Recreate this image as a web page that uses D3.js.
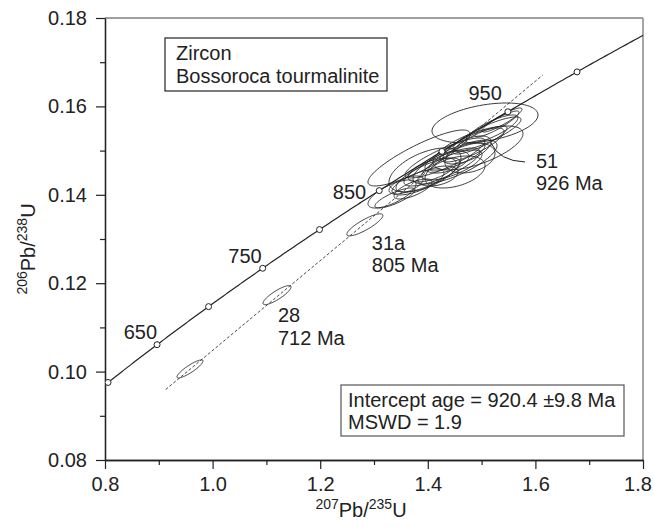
<!DOCTYPE html>
<html>
<head>
<meta charset="utf-8">
<script src="https://cdn.jsdelivr.net/npm/d3@7"></script>
<style>
  html, body { margin: 0; padding: 0; background: #fff; }
  svg { display: block; font-family: "Liberation Sans", Arial, sans-serif; }
  text { fill: #222; }
</style>
</head>
<body>
<svg id="chart" width="654" height="528"></svg>
<script>
// U-Pb concordia diagram, zircon analyses

// Axis tick values
const xMajorTicks = [0.8, 1.0, 1.2, 1.4, 1.6, 1.8];
const xMinorTicks = [0.9, 1.1, 1.3, 1.5, 1.7];
const yMajorTicks = [0.08, 0.10, 0.12, 0.14, 0.16, 0.18];
const yMinorTicks = [0.09, 0.11, 0.13, 0.15, 0.17];

// Concordia age markers (Ma) and which of them carry a label
const concordiaAges = [600, 650, 700, 750, 800, 850, 900, 950, 1000];
const labeledAges = [650, 750, 850, 950];

// Analyses: 207Pb/235U, 206Pb/238U, error half-widths and error correlation
const spotId  = ["a", "28", "31a", "b", "c", "d", "51", "e", "f", "g", "h", "i", "j", "k", "l", "m", "n", "o", "p", "q", "r", "s", "t", "u", "v", "w", "x", "y", "z", "z2"];
const spotX   = [0.958, 1.1197, 1.283, 1.3390, 1.3335, 1.3836, 1.5063, 1.3818, 1.4004, 1.4078, 1.4264, 1.4357, 1.4450, 1.4190, 1.4543, 1.4506, 1.4729, 1.4822, 1.4970, 1.5100, 1.5193, 1.5286, 1.5379, 1.3948, 1.4506, 1.3595, 1.4933, 1.3725, 1.4320, 1.4784];
const spotY   = [0.1006, 0.1173, 0.1332, 0.13928, 0.14018, 0.14833, 0.15625, 0.14290, 0.14448, 0.14561, 0.14629, 0.14742, 0.14674, 0.14425, 0.14855, 0.14742, 0.15014, 0.15127, 0.1524, 0.15376, 0.15489, 0.15602, 0.15692, 0.14561, 0.14516, 0.14222, 0.15059, 0.14131, 0.14833, 0.14833];
const spotSX  = [0.0242, 0.026, 0.0335, 0.0372, 0.0446, 0.0948, 0.0985, 0.0483, 0.0595, 0.0446, 0.0706, 0.0409, 0.0558, 0.0372, 0.052, 0.0781, 0.0446, 0.0595, 0.0502, 0.0632, 0.0483, 0.0409, 0.0372, 0.0669, 0.0558, 0.0316, 0.0836, 0.0353, 0.0743, 0.0465];
const spotSY  = [0.00204, 0.00215, 0.0025, 0.00226, 0.00317, 0.00633, 0.00452, 0.00294, 0.00385, 0.00271, 0.0043, 0.00249, 0.00339, 0.00226, 0.00317, 0.00498, 0.00317, 0.00385, 0.00317, 0.00385, 0.00317, 0.00294, 0.00271, 0.00498, 0.00362, 0.00204, 0.00498, 0.00226, 0.00452, 0.00339];
const spotRho = [0.88, 0.85, 0.85, 0.8, 0.7, 0.86, 0.4, 0.7, 0.75, 0.6, 0.8, 0.5, 0.7, 0.4, 0.8, 0.75, 0.6, 0.8, 0.85, 0.85, 0.8, 0.9, 0.9, 0.55, 0.4, 0.6, 0.65, 0.7, 0.85, 0.3];

// Discordia (Pb-loss) line end points
const discordiaX = [0.9128, 1.6135];
const discordiaY = [0.09594, 0.16708];

// Annotated analyses
const annotatedIds = ["28", "31a", "51"];
const annotatedAges = ["712 Ma", "805 Ma", "926 Ma"];

const titleLines = ["Zircon", "Bossoroca tourmalinite"];
const resultLines = ["Intercept age = 920.4 \u00b19.8 Ma", "MSWD = 1.9"];

// Decay constants (per year)
const L238 = 1.55125e-10, L235 = 9.8485e-10;
const r206 = t => Math.exp(L238 * t * 1e6) - 1;
const r207 = t => Math.exp(L235 * t * 1e6) - 1;

const svg = d3.select("#chart");
const pLeft = 105, pRight = 643, pTop = 18, pBottom = 460;
const x = d3.scaleLinear().domain([0.8, 1.8]).range([pLeft, pRight]);
const y = d3.scaleLinear().domain([0.08, 0.18]).range([pBottom, pTop]);
const FS = 20;

svg.append("defs").append("clipPath").attr("id", "plot")
  .append("rect").attr("x", pLeft).attr("y", pTop).attr("width", pRight - pLeft).attr("height", pBottom - pTop);

// Frame: top and right edges
svg.append("line").attr("x1", pLeft).attr("x2", pRight).attr("y1", pTop).attr("y2", pTop)
  .attr("stroke", "#444").attr("stroke-width", 1.2);
svg.append("line").attr("x1", pRight).attr("x2", pRight).attr("y1", pTop).attr("y2", pBottom)
  .attr("stroke", "#888").attr("stroke-width", 1.5);

// Axes
function styleAxis(g) {
  g.selectAll("path.domain").attr("stroke", "#222").attr("stroke-width", 1.3);
  g.selectAll(".tick line").attr("stroke", "#222").attr("stroke-width", 1.2);
  g.selectAll(".tick text").attr("font-size", FS).attr("font-family", "Liberation Sans, Arial, sans-serif").attr("fill", "#222");
}
const fmtX = d3.format(".1f"), fmtY = d3.format(".2f");
svg.append("g").attr("transform", `translate(0,${pBottom})`)
  .call(d3.axisBottom(x).tickValues(xMinorTicks).tickSize(5).tickFormat("").tickSizeOuter(0))
  .call(styleAxis);
svg.append("g").attr("transform", `translate(0,${pBottom})`)
  .call(d3.axisBottom(x).tickValues(xMajorTicks).tickSize(9).tickPadding(8).tickFormat(fmtX).tickSizeOuter(0))
  .call(styleAxis)
  .call(g => g.selectAll(".tick text").filter(d => d === 1.8).attr("dx", -5.5));
svg.append("g").attr("transform", `translate(${pLeft},0)`)
  .call(d3.axisLeft(y).tickValues(yMinorTicks).tickSize(5).tickFormat("").tickSizeOuter(0))
  .call(styleAxis);
svg.append("g").attr("transform", `translate(${pLeft},0)`)
  .call(d3.axisLeft(y).tickValues(yMajorTicks).tickSize(9).tickPadding(9).tickFormat(fmtY).tickSizeOuter(0))
  .call(styleAxis);

// Axis titles with superscript mass numbers
const xt = svg.append("text").attr("x", 361).attr("y", 517).attr("text-anchor", "middle").attr("font-size", FS);
xt.append("tspan").attr("font-size", 14).attr("dy", -8).text("207");
xt.append("tspan").attr("dy", 8).text("Pb/");
xt.append("tspan").attr("font-size", 14).attr("dy", -8).text("235");
xt.append("tspan").attr("dy", 8).text("U");

const yt = svg.append("text").attr("transform", "translate(35,249) rotate(-90)").attr("text-anchor", "middle").attr("font-size", FS);
yt.append("tspan").attr("font-size", 14).attr("dy", -8).text("206");
yt.append("tspan").attr("dy", 8).text("Pb/");
yt.append("tspan").attr("font-size", 14).attr("dy", -8).text("238");
yt.append("tspan").attr("dy", 8).text("U");

const plot = svg.append("g").attr("clip-path", "url(#plot)");

// Concordia curve
const ageRange = d3.range(600, 1061, 2);
plot.append("path")
  .datum(ageRange)
  .attr("d", d3.line().x(t => x(r207(t))).y(t => y(r206(t))))
  .attr("fill", "none").attr("stroke", "#222").attr("stroke-width", 1.2);

// Discordia line
plot.append("line")
  .attr("x1", x(discordiaX[0])).attr("y1", y(discordiaY[0]))
  .attr("x2", x(discordiaX[1])).attr("y2", y(discordiaY[1]))
  .attr("stroke", "#333").attr("stroke-width", 0.9).attr("stroke-dasharray", "3,2");

// Error ellipses
const spots = spotId.map((id, i) => ({ id, x: spotX[i], y: spotY[i], sx: spotSX[i], sy: spotSY[i], rho: spotRho[i] }));
function ellipsePath(d) {
  const k = Math.sqrt(1 - d.rho * d.rho);
  const pts = d3.range(0, 360, 3).map(a => {
    const t = a * Math.PI / 180;
    return [x(d.x + d.sx * Math.cos(t)), y(d.y + d.sy * (d.rho * Math.cos(t) + k * Math.sin(t)))];
  });
  return d3.line().curve(d3.curveLinearClosed)(pts);
}
plot.selectAll("path.spot").data(spots).enter().append("path")
  .attr("class", "spot")
  .attr("d", ellipsePath)
  .attr("fill", "none").attr("stroke", "#222").attr("stroke-width", 0.9);

// Age markers on concordia
plot.selectAll("circle.age").data(concordiaAges).enter().append("circle")
  .attr("class", "age")
  .attr("cx", t => x(r207(t))).attr("cy", t => y(r206(t))).attr("r", 3)
  .attr("fill", "#fff").attr("stroke", "#222").attr("stroke-width", 1);

const ageLabelOffset = { 650: [0, -6], 750: [-1, -5], 850: [-13, 8], 950: [-6, -12] };
svg.selectAll("text.age").data(labeledAges).enter().append("text")
  .attr("class", "age")
  .attr("x", t => x(r207(t)) + ageLabelOffset[t][0])
  .attr("y", t => y(r206(t)) + ageLabelOffset[t][1])
  .attr("text-anchor", "end").attr("font-size", FS)
  .text(t => t);

// Spot annotations
const annOffset = { "28": [1, 27], "31a": [7, 25], "51": [51, 45] };
annotatedIds.forEach((id, i) => {
  const s = spots.find(d => d.id === id);
  const cx = x(s.x), cy = y(s.y);
  const [dx, dy] = annOffset[id];
  const t = svg.append("text").attr("x", cx + dx).attr("y", cy + dy).attr("font-size", FS);
  t.append("tspan").attr("x", cx + dx).text(id);
  t.append("tspan").attr("x", cx + dx).attr("dy", 22.5).text(annotatedAges[i]);
  if (id === "51") {
    svg.append("path")
      .attr("d", `M${cx + 40},${cy + 39} Q${cx + 14},${cy + 38} ${cx + 6},${cy + 20}`)
      .attr("fill", "none").attr("stroke", "#222").attr("stroke-width", 1);
  }
});

// Sample box
svg.append("rect").attr("x", 165).attr("y", 38).attr("width", 222).attr("height", 53)
  .attr("fill", "#fff").attr("stroke", "#222").attr("stroke-width", 1.2);
svg.selectAll("text.title").data(titleLines).enter().append("text")
  .attr("class", "title").attr("x", 176).attr("y", (d, i) => 60 + i * 23)
  .attr("font-size", FS).text(d => d);

// Result box
svg.append("rect").attr("x", 341).attr("y", 385).attr("width", 283).attr("height", 51)
  .attr("fill", "#fff").attr("stroke", "#555").attr("stroke-width", 1.2);
svg.selectAll("text.result").data(resultLines).enter().append("text")
  .attr("class", "result").attr("x", 348).attr("y", (d, i) => 407 + i * 21.5)
  .attr("font-size", FS).text(d => d);
</script>
</body>
</html>
